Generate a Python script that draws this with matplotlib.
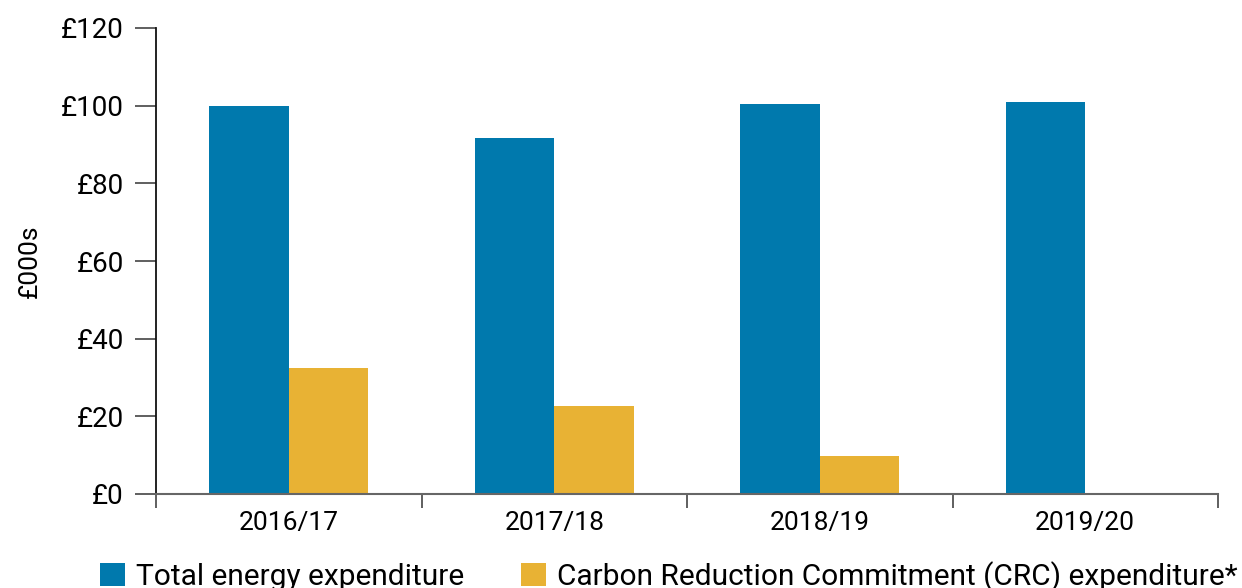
import matplotlib
matplotlib.use("Agg")
import matplotlib.pyplot as plt
import numpy as np
from matplotlib.patches import Patch

categories = ["2016/17", "2017/18", "2018/19", "2019/20"]
total_energy = [99.8, 91.8, 100.5, 101.0]
crc = [32.4, 22.6, 9.8, 0.0]
yticks = [0, 20, 40, 60, 80, 100, 120]
ytick_labels = ["£0", "£20", "£40", "£60", "£80", "£100", "£120"]
series_names = ["Total energy expenditure", "Carbon Reduction Commitment (CRC) expenditure*"]

blue = "#0079AD"
yellow = "#E8B234"

plt.rcParams['font.family'] = ['Roboto', 'DejaVu Sans']

fig = plt.figure(figsize=(12.42, 5.88), dpi=100)
ax = fig.add_axes([156/1242, 1-494/588, (1218-156)/1242, (494-28)/588])

x = np.arange(len(categories))
w = 0.30
ax.bar(x - w/2, total_energy, width=w, color=blue)
ax.bar(x + w/2, [v if v > 0 else np.nan for v in crc], width=w, color=yellow)

ax.set_xlim(-0.5, len(categories) - 0.5)
ax.set_ylim(0, 120)
ax.set_yticks(yticks)
ax.set_yticklabels(ytick_labels)
ax.set_xticks(x)
ax.set_xticklabels(categories)
ax.set_xticks(np.arange(-0.5, len(categories), 1.0), minor=True)

ax.tick_params(axis='x', which='major', length=0, pad=12, labelsize=19)
ax.tick_params(axis='x', which='minor', length=10, width=1.2, color="#444444", direction='out')
ax.tick_params(axis='y', length=15, width=1.2, color="#444444", pad=8, labelsize=20)

for s in ['top', 'right']:
    ax.spines[s].set_visible(False)
ax.spines['left'].set_color('#111111')
ax.spines['left'].set_linewidth(1.3)
ax.spines['bottom'].set_color('#666666')
ax.spines['bottom'].set_linewidth(1.5)

ax.set_ylabel("£000s", fontsize=19, labelpad=14)

handles = [Patch(facecolor=blue), Patch(facecolor=yellow)]
fig.legend(handles, series_names, loc='upper left', bbox_to_anchor=(88/1242, 1-549/588),
           ncol=2, frameon=False, fontsize=21.5, handlelength=0.85, handleheight=0.85,
           handletextpad=0.35, columnspacing=1.9, borderaxespad=0)

fig.savefig("out.png", dpi=100)
